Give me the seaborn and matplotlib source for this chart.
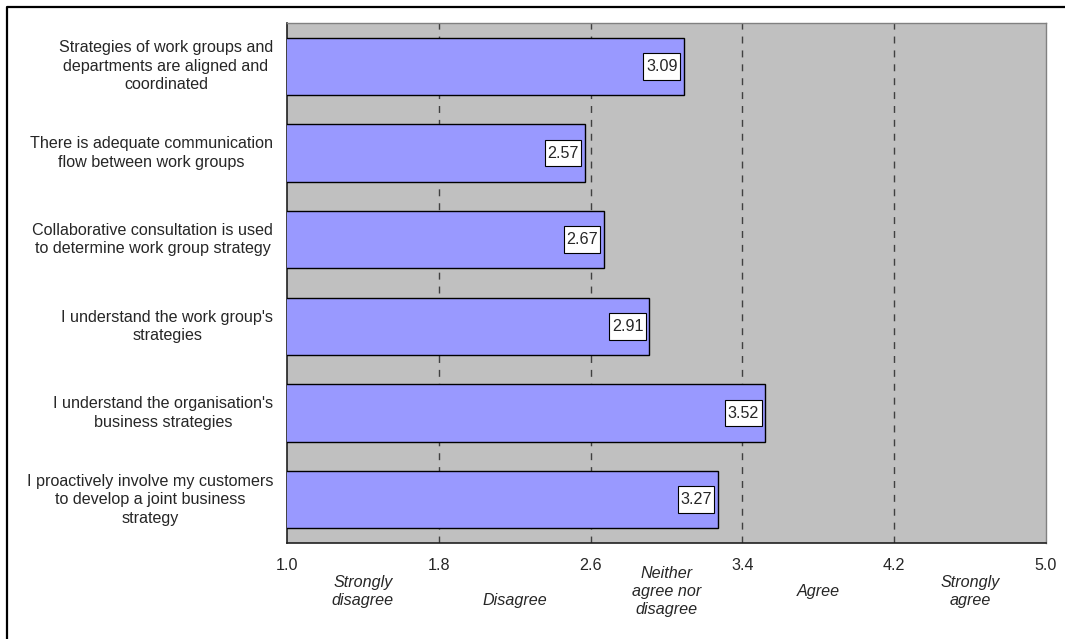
import matplotlib
matplotlib.use("Agg")
import matplotlib.pyplot as plt
from matplotlib.lines import Line2D
from matplotlib.path import Path
import seaborn as sns
import pandas as pd
import numpy as np

statements = [
    "Strategies of work groups and\ndepartments are aligned and\ncoordinated",
    "There is adequate communication\nflow between work groups",
    "Collaborative consultation is used\nto determine work group strategy",
    "I understand the work group's\nstrategies",
    "I understand the organisation's\nbusiness strategies",
    "I proactively involve my customers\nto develop a joint business\nstrategy",
]
scores = [3.09, 2.57, 2.67, 2.91, 3.52, 3.27]
scale_ticks = [1.0, 1.8, 2.6, 3.4, 4.2, 5.0]
scale_names = [
    "Strongly\ndisagree",
    "Disagree",
    "Neither\nagree nor\ndisagree",
    "Agree",
    "Strongly\nagree",
]

FS = 11.6

sns.set_style("white")
plt.rcParams["font.family"] = ["Liberation Sans", "DejaVu Sans"]
plt.rcParams["font.size"] = FS

W, H = 1065, 639
fig = plt.figure(figsize=(W / 100, H / 100), dpi=100)
ax = fig.add_axes([287 / W, 1 - 543 / H, (1046 - 287) / W, (543 - 23) / H])

df = pd.DataFrame({"statement": statements, "score": scores})
sns.barplot(
    data=df, x="score", y="statement", orient="h",
    color="#9999FF", saturation=1, width=0.66,
    edgecolor="black", linewidth=1.0, ax=ax, zorder=3,
)

ax.set_facecolor("#C0C0C0")
ax.set_xlim(scale_ticks[0], scale_ticks[-1])
ax.set_ylim(len(statements) - 0.5, -0.5)
ax.set_xlabel("")
ax.set_ylabel("")

# dashed reference lines at the inner scale boundaries
for v in scale_ticks[1:-1]:
    ax.axvline(v, color="#404040", lw=1.0, ls=(0, (5, 5)), zorder=1)

# x axis
ax.set_xticks(scale_ticks)
ax.set_xticklabels([f"{v:.1f}" for v in scale_ticks])
ax.tick_params(axis="x", which="major", direction="out", length=5,
               width=1, color="#202020", pad=6, labelsize=FS)

# y axis: labels at bar centres, tick marks between categories
ax.tick_params(axis="y", which="major", length=0, pad=10, labelsize=FS)
for lbl in ax.get_yticklabels():
    lbl.set_multialignment("center")
    lbl.set_linespacing(1.3)
    lbl.set_verticalalignment("center")
ax.set_yticks(np.arange(-0.5, len(statements)), minor=True)
ax.tick_params(axis="y", which="minor", direction="out", length=6,
               width=1, color="black")

for side in ("left", "bottom"):
    ax.spines[side].set_color("#202020")
    ax.spines[side].set_linewidth(1.2)
for side in ("top", "right"):
    ax.spines[side].set_color("#808080")
    ax.spines[side].set_linewidth(1.0)


def label_box(x0, y0, width, height, mutation_size):
    """Rectangle with a narrow side margin and a taller top/bottom margin."""
    px = 0.16 * mutation_size
    py = 0.36 * mutation_size
    x0, y0 = x0 - px, y0 - py
    x1, y1 = x0 + width + 2 * px, y0 + height + 2 * py
    return Path([(x0, y0), (x1, y0), (x1, y1), (x0, y1), (x0, y0)], closed=True)


# value labels in white boxes at the bar ends
for i, v in enumerate(scores):
    ax.annotate(
        f"{v:.2f}", xy=(v, i), xytext=(-6, 0), textcoords="offset pixels",
        ha="right", va="center", fontsize=FS, zorder=5,
        bbox=dict(boxstyle=label_box, fc="white", ec="black", lw=0.8),
    )

# verbal scale names centred in each interval
mids = [(a + b) / 2 for a, b in zip(scale_ticks[:-1], scale_ticks[1:])]
trans = ax.get_xaxis_transform()
for m, name in zip(mids, scale_names):
    y = -0.110 if name == "Disagree" else -0.094
    ax.text(m, y, name, transform=trans, ha="center", va="center",
            multialignment="center", style="italic", fontsize=FS,
            linespacing=1.25)

# page frame along the top and left edge
fig.add_artist(Line2D([6.5 / W, 6.5 / W, 1.0], [0.0, 1 - 6.5 / H, 1 - 6.5 / H],
                      transform=fig.transFigure, color="black", lw=1.6))

fig.savefig("out.png", dpi=100)
